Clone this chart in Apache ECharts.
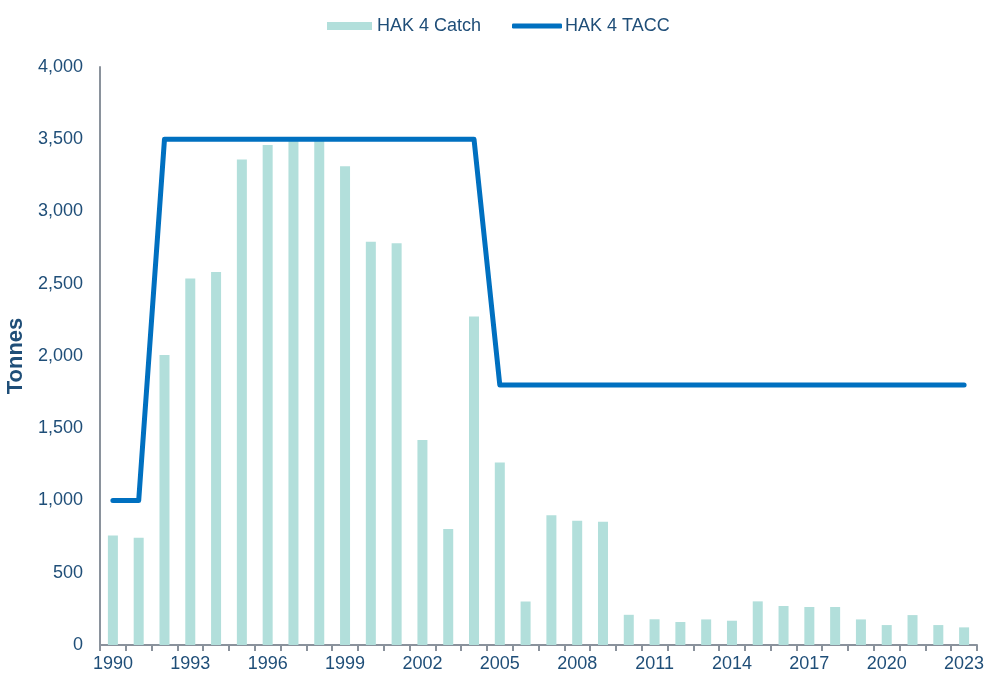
<!DOCTYPE html>
<html>
<head>
<meta charset="utf-8">
<script src="https://cdn.jsdelivr.net/npm/echarts@6/dist/echarts.min.js"></script>
<style>
  html, body { margin: 0; padding: 0; background: #fff; }
  #chart { width: 987px; height: 680px; }
</style>
</head>
<body>
<div id="chart"></div>
<script>
// Years 1990..2023
const years = [
  '1990', '1991', '1992', '1993', '1994', '1995', '1996', '1997', '1998', '1999',
  '2000', '2001', '2002', '2003', '2004', '2005', '2006', '2007', '2008', '2009',
  '2010', '2011', '2012', '2013', '2014', '2015', '2016', '2017', '2018', '2019',
  '2020', '2021', '2022', '2023'
];

// HAK 4 catch (tonnes)
const catchValues = [
  758, 742, 2007, 2536, 2581, 3360, 3460, 3490, 3490, 3313,
  2791, 2780, 1419, 803, 2273, 1263, 301, 898, 860, 853,
  209, 178, 159, 177, 168, 302, 270, 263, 263, 177,
  138, 207, 138, 122
];

// HAK 4 TACC (tonnes)
const taccValues = [
  1000, 1000, 3500, 3500, 3500, 3500, 3500, 3500, 3500, 3500,
  3500, 3500, 3500, 3500, 3500, 1800, 1800, 1800, 1800, 1800,
  1800, 1800, 1800, 1800, 1800, 1800, 1800, 1800, 1800, 1800,
  1800, 1800, 1800, 1800
];

const textColor = '#1f4e78';
const axisColor = '#8a929c';
const catchColor = '#b2dfdb';
const taccColor = '#0070c0';

const option = {
  animation: false,
  textStyle: { fontFamily: 'Liberation Sans, Arial, sans-serif' },
  legend: [
    {
      left: 322,
      top: 12,
      itemWidth: 45,
      itemHeight: 8,
      textStyle: { color: textColor, fontSize: 18 },
      data: [{ name: 'HAK 4 Catch', icon: 'rect' }]
    },
    {
      left: 507,
      top: 12,
      itemWidth: 50,
      itemHeight: 5,
      textStyle: { color: textColor, fontSize: 18, padding: [0, 0, 0, -2] },
      data: [{ name: 'HAK 4 TACC', icon: 'roundRect' }]
    }
  ],
  grid: { left: 100, right: 10, top: 67, bottom: 35, outerBoundsMode: 'none' },
  xAxis: {
    type: 'category',
    data: years,
    axisLine: { lineStyle: { color: axisColor, width: 2 } },
    axisTick: {
      show: true,
      alignWithLabel: false,
      interval: 0,
      length: 6,
      lineStyle: { color: axisColor, width: 2 }
    },
    axisLabel: {
      interval: 2,
      color: textColor,
      fontSize: 18,
      margin: 10
    }
  },
  yAxis: {
    type: 'value',
    min: 0,
    max: 4000,
    interval: 500,
    name: 'Tonnes',
    nameLocation: 'middle',
    nameGap: 70,
    nameTextStyle: { color: textColor, fontSize: 22, fontWeight: 'bold' },
    axisLine: { show: true, lineStyle: { color: axisColor, width: 2 } },
    axisTick: { show: false },
    splitLine: { show: false },
    axisLabel: {
      color: textColor,
      fontSize: 18,
      margin: 17,
      formatter: v => v.toLocaleString('en-US')
    }
  },
  series: [
    {
      name: 'HAK 4 Catch',
      type: 'bar',
      data: catchValues,
      barWidth: 10,
      itemStyle: { color: catchColor }
    },
    {
      name: 'HAK 4 TACC',
      type: 'line',
      data: taccValues,
      symbol: 'none',
      lineStyle: { color: taccColor, width: 5, cap: 'round', join: 'round' },
      itemStyle: { color: taccColor }
    }
  ]
};

const myChart = echarts.init(document.getElementById('chart'));
myChart.setOption(option);
</script>
</body>
</html>
